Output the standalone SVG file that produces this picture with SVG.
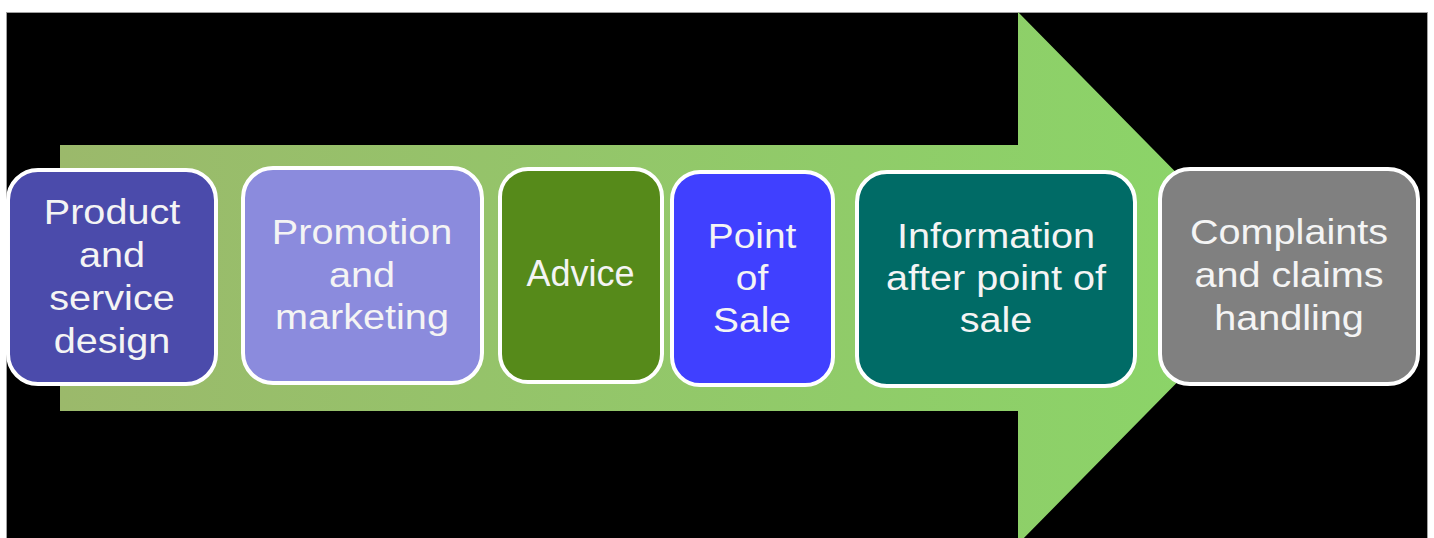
<svg xmlns="http://www.w3.org/2000/svg" width="1434" height="538" viewBox="0 0 1434 538">
  <style>
    .box { stroke: #ffffff; stroke-width: 4; }
    .lbl { font-family: "Liberation Sans", Arial, sans-serif; font-size: 36px; fill: #f4f4f4; text-anchor: middle; }
  </style>
  <defs>
    <linearGradient id="arrowGrad" x1="60" y1="0" x2="1280" y2="0" gradientUnits="userSpaceOnUse">
      <stop offset="0" stop-color="#9bb96b"/>
      <stop offset="1" stop-color="#8ad668"/>
    </linearGradient>
  </defs>
  <rect x="0" y="0" width="1434" height="538" fill="#ffffff"/>
  <rect x="6.5" y="12.5" width="1421" height="530" fill="#000000" stroke="#a0a0a0" stroke-width="1"/>
  <g id="connectors">
    <polygon points="60,145 1018,145 1018,12 1280,278 1018,544 1018,411 60,411" fill="url(#arrowGrad)"/>
  </g>
  <g id="node-product">
    <rect class="box" x="8" y="170" width="208" height="214" rx="30" fill="#4b4bab"/>
    <text class="lbl" transform="translate(112 0) scale(1.1 1)"><tspan x="0" y="224">Product</tspan><tspan x="0" y="267">and</tspan><tspan x="0" y="310">service</tspan><tspan x="0" y="353">design</tspan></text>
  </g>
  <g id="node-promotion">
    <rect class="box" x="243" y="168" width="239" height="215" rx="30" fill="#8b8bdd"/>
    <text class="lbl" transform="translate(362 0) scale(1.1 1)"><tspan x="0" y="244">Promotion</tspan><tspan x="0" y="287">and</tspan><tspan x="0" y="329">marketing</tspan></text>
  </g>
  <g id="node-advice">
    <rect class="box" x="500" y="169" width="162" height="213" rx="28" fill="#568a1a"/>
    <text class="lbl" x="580.5" y="286">Advice</text>
  </g>
  <g id="node-pos">
    <rect class="box" x="672" y="172" width="161" height="213" rx="28" fill="#4040ff"/>
    <text class="lbl" transform="translate(752 0) scale(1.08 1)"><tspan x="0" y="248">Point</tspan><tspan x="0" y="290">of</tspan><tspan x="0" y="332">Sale</tspan></text>
  </g>
  <g id="node-info">
    <rect class="box" x="857" y="172" width="278" height="214" rx="30" fill="#006b66"/>
    <text class="lbl" transform="translate(996 0) scale(1.1 1)"><tspan x="0" y="248">Information</tspan><tspan x="0" y="290">after point of</tspan><tspan x="0" y="332">sale</tspan></text>
  </g>
  <g id="node-complaints">
    <rect class="box" x="1160" y="169" width="258" height="215" rx="30" fill="#808080"/>
    <text class="lbl" transform="translate(1289 0) scale(1.1 1)"><tspan x="0" y="244">Complaints</tspan><tspan x="0" y="287">and claims</tspan><tspan x="0" y="330">handling</tspan></text>
  </g>
</svg>
